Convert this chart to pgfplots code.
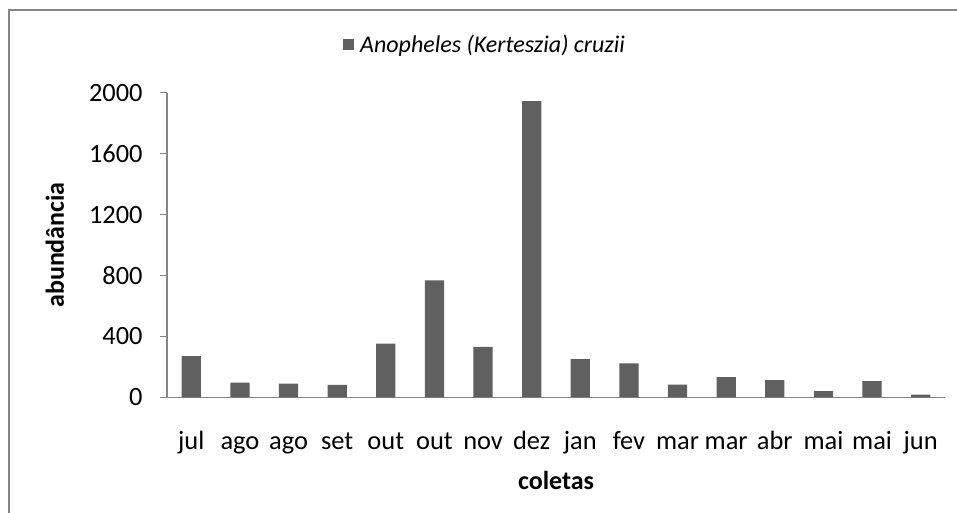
\documentclass[border=0pt]{standalone}
\usepackage{fontspec}
\setmainfont{Carlito}
\usepackage{pgfplots}
\pgfplotsset{compat=1.18}
\definecolor{barGray}{RGB}{96,96,96}
\definecolor{axisGray}{RGB}{134,134,134}

\begin{document}
\begin{tikzpicture}[x=1pt,y=1pt]
\useasboundingbox (-83.5,-57.85) rectangle (395,198.65);
% outer chart frame (only left and top edges fall inside the picture)
\draw[axisGray, line width=1pt] (-79,-70) -- (-79,193.65) -- (410,193.65);
\begin{axis}[
  at={(0,0)}, anchor=south west,
  scale only axis, width=389pt, height=152.3pt,
  ymin=0, ymax=2000, xmin=-0.5, xmax=15.5,
  enlargelimits=false,
  axis x line*=bottom, axis y line*=left,
  axis line style={axisGray, line width=0.6pt, -},
  ytick={0,400,...,2000},
  xtick={0,...,15},
  xticklabels={jul,ago,ago,set,out,out,nov,dez,jan,fev,mar,mar,abr,mai,mai,jun},
  x tick style={draw=none},
  y tick style={axisGray, line width=0.6pt},
  tick align=outside, major tick length=3.5pt,
  scaled y ticks=false,
  /pgf/number format/.cd, set thousands separator={}, assume math mode=true, /pgfplots/.cd,
  tick label style={font=\fontsize{13.2}{15}\selectfont, text=black},
  yticklabel style={xshift=-5.2pt},
  xticklabel style={anchor=base, yshift=-22.4pt},
  xlabel={coletas}, ylabel={abundância},
  every axis x label/.style={at={(axis description cs:0.5,-0.2715)}, anchor=center, font=\bfseries\fontsize{13}{15}\selectfont},
  every axis y label/.style={at={(axis description cs:-0.1440,0.5)}, anchor=center, rotate=90, font=\bfseries\fontsize{13}{15}\selectfont},
  legend style={at={(axis description cs:0.410,1.157)}, anchor=center, draw=none, fill=none,
    font=\itshape\fontsize{12}{14}\selectfont, inner sep=0pt},
  legend image code/.code={\fill[barGray] (0pt,-2.8pt) rectangle (5.6pt,2.8pt); \path (6.6pt,0pt);},
  legend cell align=left,
]
\addplot[ybar, bar width=9.65pt, fill=barGray, draw=none] coordinates {
  (0,270) (1,97) (2,90) (3,81) (4,353) (5,767) (6,331) (7,1945)
  (8,250) (9,223) (10,83) (11,133) (12,112) (13,41) (14,107) (15,17)
};
\addlegendentry{Anopheles (Kerteszia) cruzii}
\end{axis}
\end{tikzpicture}
\end{document}
